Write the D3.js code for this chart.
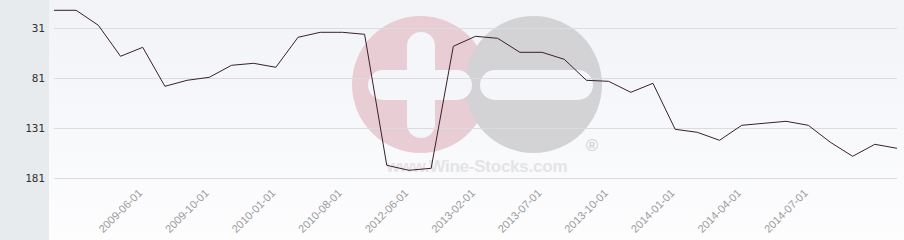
<!DOCTYPE html>
<html>
<head>
<meta charset="utf-8">
<script src="https://cdn.jsdelivr.net/npm/d3@7"></script>
<style>
    body { margin: 0; padding: 0; background: #fff; }
    svg { display: block; }
</style>
</head>
<body>
<script>
// chart size
var w = 904, h = 240;

// month of each point (categories)
var dates = [
    "2009-02-01", "2009-03-01", "2009-04-01", "2009-05-01", "2009-06-01",
    "2009-07-01", "2009-09-01", "2009-10-01", "2009-11-01", "2009-12-01",
    "2010-01-01", "2010-03-01", "2010-06-01", "2010-08-01", "2010-10-01",
    "2011-06-01", "2012-06-01", "2012-09-01", "2012-12-01", "2013-02-01",
    "2013-04-01", "2013-06-01", "2013-07-01", "2013-08-01", "2013-09-01",
    "2013-10-01", "2013-11-01", "2013-12-01", "2014-01-01", "2014-02-01",
    "2014-03-01", "2014-04-01", "2014-05-01", "2014-06-01", "2014-07-01",
    "2014-08-01", "2014-09-01", "2014-10-01", "2014-11-01"
];

// rank values (lower is better, axis is reversed)
var ranks = [
    13, 13, 28, 59, 50, 89, 83, 80, 68, 66,
    70, 40, 35, 35, 37, 168, 173, 171, 49, 39,
    41, 55, 55, 62, 83, 84, 95, 86, 132, 135,
    143, 128, 126, 124, 128, 145, 159, 147, 151
];

// y tick labels
var yTicks = [31, 81, 131, 181];

// only every third date gets a label
var xLabels = dates.filter(function (d, i) { return i % 3 === 1 && i > 1 && i < 36; });

var svg = d3.select("body")
    .append("svg")
    .attr("width", w)
    .attr("height", h);

// background gradient for the plot
var grad = svg.append("defs").append("linearGradient")
    .attr("id", "bg")
    .attr("x1", 0).attr("y1", 0)
    .attr("x2", 0).attr("y2", 1);
grad.append("stop").attr("offset", "0%").attr("stop-color", "#f1f3f7");
grad.append("stop").attr("offset", "100%").attr("stop-color", "#fdfdfe");

svg.append("rect")
    .attr("x", 49).attr("y", 0)
    .attr("width", w - 49).attr("height", h)
    .style("fill", "url(#bg)");

// left gray panel behind the y labels
svg.append("rect")
    .attr("x", 0).attr("y", 0)
    .attr("width", 49).attr("height", h)
    .style("fill", "#e8ebee");

// scales
var x = d3.scalePoint()
    .domain(dates)
    .range([54, 897]);

var y = d3.scaleLinear()
    .domain([31, 181])
    .range([28.3, 178.3]);

// watermark logo (plus / minus circles)
var logo = svg.append("g").attr("class", "watermark");
logo.append("circle")
    .attr("cx", 420.5).attr("cy", 84.5).attr("r", 68.5)
    .style("fill", "#e8cdd4");
logo.append("circle")
    .attr("cx", 533.5).attr("cy", 84.5).attr("r", 68.5)
    .style("fill", "#d3d3d5");
logo.append("rect")
    .attr("x", 407).attr("y", 32).attr("width", 28).attr("height", 106)
    .attr("rx", 14)
    .style("fill", "#f5f6f9");
logo.append("rect")
    .attr("x", 368).attr("y", 70).attr("width", 104).attr("height", 30)
    .attr("rx", 15)
    .style("fill", "#f5f6f9");
logo.append("rect")
    .attr("x", 480).attr("y", 70).attr("width", 113).attr("height", 30)
    .attr("rx", 15)
    .style("fill", "#f5f6f9");
logo.append("text")
    .attr("x", 592).attr("y", 151)
    .attr("text-anchor", "middle")
    .style("font-family", "Liberation Sans, Arial, sans-serif")
    .style("font-size", "17px")
    .style("font-weight", "bold")
    .style("fill", "#d6d6d8")
    .text("®");
logo.append("text")
    .attr("x", 477).attr("y", 172)
    .attr("text-anchor", "middle")
    .attr("textLength", 181)
    .style("font-family", "Liberation Sans, Arial, sans-serif")
    .style("font-size", "17px")
    .style("font-weight", "bold")
    .style("fill", "#e4e4e6")
    .text("www.Wine-Stocks.com");

// horizontal grid lines
svg.selectAll(".grid")
    .data(yTicks)
    .enter()
    .append("line")
    .attr("class", "grid")
    .attr("x1", 54).attr("x2", 897)
    .attr("y1", function (d) { return Math.round(y(d)) + 0.5; })
    .attr("y2", function (d) { return Math.round(y(d)) + 0.5; })
    .style("stroke", "#dcdcdf")
    .style("stroke-width", 1);

// y axis labels
var yAxis = d3.axisLeft(y)
    .tickValues(yTicks)
    .tickSize(0)
    .tickPadding(0);

var yg = svg.append("g")
    .attr("class", "axis")
    .attr("transform", "translate(45,0)")
    .call(yAxis);
yg.select(".domain").remove();
yg.selectAll("text")
    .style("font-family", "DejaVu Sans Mono, monospace")
    .style("font-size", "11px")
    .style("fill", "#333");

// x axis labels, rotated
var xAxis = d3.axisBottom(x)
    .tickValues(xLabels)
    .tickSize(0)
    .tickPadding(0);

var xg = svg.append("g")
    .attr("class", "axis")
    .attr("transform", "translate(0,191)")
    .call(xAxis);
xg.select(".domain").remove();
xg.selectAll("text")
    .attr("text-anchor", "end")
    .attr("dy", "0.35em")
    .attr("transform", "translate(-3,0) rotate(-45)")
    .style("font-family", "Liberation Sans, Arial, sans-serif")
    .style("font-size", "11px")
    .style("fill", "#9a9a9a");

// rank line
var line = d3.line()
    .x(function (d, i) { return x(dates[i]); })
    .y(function (d) { return y(d); });

svg.append("path")
    .datum(ranks)
    .attr("class", "rankLine")
    .attr("d", line)
    .style("fill", "none")
    .style("stroke", "#3b1f2b")
    .style("stroke-width", 1);
</script>
</body>
</html>
